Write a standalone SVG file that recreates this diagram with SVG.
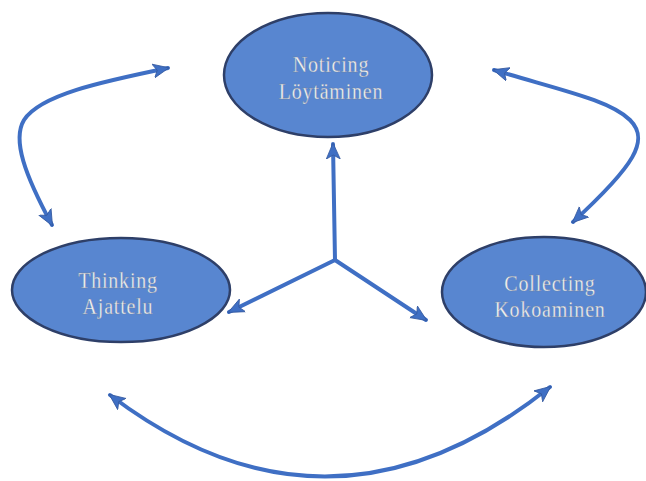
<svg xmlns="http://www.w3.org/2000/svg" width="646" height="481" viewBox="0 0 646 481">
<style>
.node{fill:#5886d0;stroke:#2e3f68;stroke-width:2.5}
.lbl{font-family:"Liberation Serif","Times New Roman",serif;font-size:20px;letter-spacing:0.8px;fill:#f2f2f2;text-anchor:middle;stroke:#6d7fa0;stroke-width:0.3}
.conn{fill:none;stroke:#3f6fc4;stroke-width:4;stroke-linecap:round}
</style>
<defs>
<marker id="ah" markerUnits="userSpaceOnUse" markerWidth="18" markerHeight="16" refX="15" refY="8" orient="auto-start-reverse" viewBox="0 0 18 16">
<path d="M0,1 L16,8 L0,15 L4,8 z" fill="#3f6fc4" stroke="#34599f" stroke-width="0.8"/>
</marker>
</defs>
<rect width="646" height="481" fill="#ffffff"/>
<g id="connectors">
<path class="conn" d="M168,68 C100,82 40,95 24,120 C12,140 25,175 52,225" marker-start="url(#ah)" marker-end="url(#ah)"/>
<path class="conn" d="M494,70 C560,90 610,100 630,120 C650,140 635,165 573,222" marker-start="url(#ah)" marker-end="url(#ah)"/>
<path class="conn" d="M110,395 Q330,562 550,387" marker-start="url(#ah)" marker-end="url(#ah)"/>
<path class="conn" d="M335,260 L333,144" marker-end="url(#ah)"/>
<path class="conn" d="M335,260 L229,312" marker-end="url(#ah)"/>
<path class="conn" d="M335,260 L426,320" marker-end="url(#ah)"/>
</g>
<g id="noticing">
<ellipse class="node" cx="328" cy="75" rx="104" ry="62"/>
<text class="lbl" transform="translate(331,72) scale(1,1.2)">Noticing</text>
<text class="lbl" transform="translate(331,99) scale(1,1.2)">Löytäminen</text>
</g>
<g id="thinking">
<ellipse class="node" cx="121" cy="290" rx="109" ry="52"/>
<text class="lbl" transform="translate(118,288) scale(1,1.2)">Thinking</text>
<text class="lbl" transform="translate(118,314) scale(1,1.2)">Ajattelu</text>
</g>
<g id="collecting">
<ellipse class="node" cx="544" cy="292" rx="102" ry="55"/>
<text class="lbl" transform="translate(550,291) scale(1,1.2)">Collecting</text>
<text class="lbl" transform="translate(550,317) scale(1,1.2)">Kokoaminen</text>
</g>
</svg>
